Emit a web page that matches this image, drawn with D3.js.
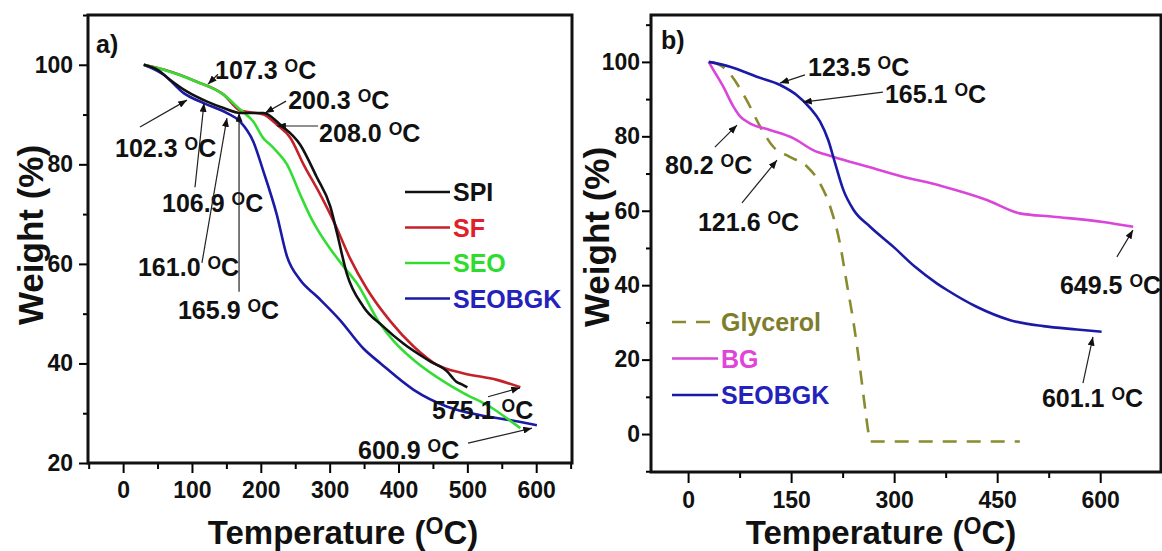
<!DOCTYPE html>
<html>
<head>
<meta charset="utf-8">
<script src="https://cdn.jsdelivr.net/npm/d3@7"></script>
<style>
    body { margin: 0; background: #fff; }
    text { font-family: "Liberation Sans", Arial, sans-serif; font-weight: bold; }
</style>
</head>
<body>
<div id="chart"></div>
<script>
// ---- panel a data: [temperature (C), weight (%)] ----
var spiData = [[30,100],[50,99],[68,97],[93,94.6],[122,92.6],[146,91.3],[170,90.3],[204,90.3],[228,88],[257,84],[281,77.5],[301,71.5],[311,66],[325,58],[349,51.4],[378,47.4],[407,44],[446,40.4],[472,38.2],[478,37.2],[484,36.3],[492,35.8],[500,35.2]];
var sfData = [[30,100],[60,99],[107,96.6],[146,94],[170,90.8],[204,90],[223,88],[243,85.3],[262,80],[286,74],[306,68.5],[330,61],[354,55],[388,48.5],[422,43.4],[456,39.7],[495,38],[543,36.7],[577,35.2]];
var seoData = [[30,100],[59,99],[107,96.6],[146,94],[170,91],[189,88.6],[205,85],[214,83.9],[223,82.6],[238,80],[257,74],[272,69.5],[282,67],[301,63],[320,59.5],[340,56],[373,48],[393,44.5],[422,40.7],[470,36],[495,34],[533,31.3],[567,28],[577,27]];
var seobgkA = [[30,100],[59,98],[88,94.3],[117,92.3],[151,90.3],[170,88.6],[189,84.6],[204,78.5],[223,70],[238,61.5],[257,56.8],[282,53.4],[315,48.7],[349,43],[374,40],[422,34.7],[471,31.3],[519,29.6],[567,28.5],[601,27.6]];

// ---- panel b data ----
var glycerolData = [[35,100],[56,97.8],[85,89.8],[105,82.6],[124,77.2],[148,74.5],[173,71.9],[192,67.4],[207,61],[221,51.3],[231,40.5],[241,29.8],[250,18.1],[258,6.5],[262,1],[265,-2],[483,-2]];
var bgData = [[30,100],[37,97.8],[51,93.4],[66,88],[76,85.3],[90,83.5],[119,81.7],[153,79.5],[182,76.3],[211,74.5],[262,71.8],[310,69.3],[370,66.6],[435,62.9],[483,59.3],[532,58.4],[604,57],[648,55.7]];
var seobgkB = [[30,100],[61,98.7],[100,96],[134,93.8],[158,91.1],[178,87.5],[192,84],[204,79],[214,72.8],[226,65.6],[241,60.2],[265,55.7],[299,50.3],[330,45],[362,40.5],[377,38.7],[420,34.2],[469,30.6],[517,29],[566,28.1],[602,27.5]];

// tick values
var xTicksA = [0, 100, 200, 300, 400, 500, 600];
var xMinorA = [-50, 50, 150, 250, 350, 450, 550, 650];
var yTicksA = [20, 40, 60, 80, 100];
var yMinorA = [30, 50, 70, 90, 110];
var xTicksB = [0, 150, 300, 450, 600];
var xMinorB = [75, 225, 375, 525];
var yTicksB = [0, 20, 40, 60, 80, 100];
var yMinorB = [-10, 10, 30, 50, 70, 90, 110];

// annotations: label, text pos [T,W], arrow from [T,W] to [T,W]
var notesA = [
    {label: "107.3", at: [133.6, 98.9], from: [137.8, 98.1], to: [123.3, 96.1]},
    {label: "200.3", at: [239.7, 92.9], from: [236.7, 92.7], to: [206.2, 90.3]},
    {label: "208.0", at: [284.7, 86.3], from: [283.2, 87.7], to: [223.7, 87.7]},
    {label: "102.3", at: [-11.8, 83.3], from: [24.5, 87.5], to: [92.8, 92.9]},
    {label: "106.9", at: [56.5, 72.2], from: [104.4, 75.4], to: [117.5, 92.3]},
    {label: "161.0", at: [21.6, 59.4], from: [114.5, 60.2], to: [150.8, 89.3]},
    {label: "165.9", at: [79.7, 50.7], from: [168.4, 54.4], to: [168.4, 90.3]},
    {label: "575.1", at: [448.7, 30.6], from: [530.0, 33.3], to: [576.5, 35.1]},
    {label: "600.9", at: [341.2, 22.6], from: [501.0, 24.0], to: [593.9, 27.0]}
];
var notesB = [
    {label: "123.5", at: [174.6, 98.6], from: [170.2, 96.5], to: [133.8, 94.3]},
    {label: "165.1", at: [286.5, 91.4], from: [283.6, 91.9], to: [167.3, 89.2]},
    {label: "80.2", at: [-33.6, 72.3], from: [39.0, 77.1], to: [71.2, 83.0]},
    {label: "121.6", at: [14.4, 57.0], from: [78.5, 62.1], to: [129.4, 73.6]},
    {label: "649.5", at: [541.4, 40.0], from: [624.3, 47.6], to: [647.7, 54.8]},
    {label: "601.1", at: [515.2, 9.7], from: [574.9, 13.7], to: [589.4, 26.1]}
];

var svg = d3.select("#chart").append("svg")
    .attr("width", 1162)
    .attr("height", 551);

// arrow head
svg.append("defs").append("marker")
    .attr("id", "arrow")
    .attr("viewBox", "0 0 10 8")
    .attr("refX", 10).attr("refY", 4)
    .attr("markerWidth", 9).attr("markerHeight", 7)
    .attr("markerUnits", "userSpaceOnUse")
    .attr("orient", "auto")
    .append("path").attr("d", "M0,0 L10,4 L0,8 z").attr("fill", "#111");

// adds "xxx OC" with raised O
function degText(sel, label) {
    sel.append("tspan").text(label + " ");
    sel.append("tspan").attr("font-size", "0.7em").attr("dy", "-0.42em").text("O");
    sel.append("tspan").attr("dy", "0.3em").text("C");
}

function drawPanel(cfg) {
    var x = d3.scaleLinear().domain(cfg.xDomain).range(cfg.xRange);
    var y = d3.scaleLinear().domain(cfg.yDomain).range(cfg.yRange);
    var g = svg.append("g");

    // minor ticks
    g.append("g").attr("transform", "translate(0," + cfg.yRange[0] + ")")
        .call(d3.axisBottom(x).tickValues(cfg.xMinor).tickSize(6).tickFormat(""))
        .call(function (a) { a.select(".domain").remove(); a.selectAll("line").attr("stroke-width", 2); });
    g.append("g").attr("transform", "translate(" + cfg.xRange[0] + ",0)")
        .call(d3.axisLeft(y).tickValues(cfg.yMinor).tickSize(5).tickFormat(""))
        .call(function (a) { a.select(".domain").remove(); a.selectAll("line").attr("stroke-width", 2); });

    // major ticks
    var xAxis = g.append("g").attr("transform", "translate(0," + cfg.yRange[0] + ")")
        .call(d3.axisBottom(x).tickValues(cfg.xTicks).tickSize(cfg.xTickLen).tickSizeOuter(0).tickPadding(cfg.xPad));
    var yAxis = g.append("g").attr("transform", "translate(" + cfg.xRange[0] + ",0)")
        .call(d3.axisLeft(y).tickValues(cfg.yTicks).tickSize(9).tickSizeOuter(0).tickPadding(cfg.yPad));
    [xAxis, yAxis].forEach(function (a) {
        a.select(".domain").remove();
        a.selectAll("line").attr("stroke-width", 2);
        a.selectAll("text").attr("font-size", 23).attr("fill", "#111")
            .style("font-family", "'Liberation Sans', Arial, sans-serif").style("font-weight", "bold");
    });

    // frame
    g.append("rect")
        .attr("x", cfg.xRange[0]).attr("y", cfg.yRange[1])
        .attr("width", cfg.xRange[1] - cfg.xRange[0])
        .attr("height", cfg.yRange[0] - cfg.yRange[1])
        .attr("fill", "none").attr("stroke", "#111").attr("stroke-width", 3);

    // curves
    var line = d3.line()
        .x(function (d) { return x(d[0]); })
        .y(function (d) { return y(d[1]); })
        .curve(d3.curveMonotoneX);
    cfg.series.forEach(function (s) {
        g.append("path")
            .datum(s.data)
            .attr("d", line)
            .attr("fill", "none")
            .attr("stroke", s.color)
            .attr("stroke-width", 2.6)
            .attr("stroke-dasharray", s.dash || null);
    });

    // annotations
    cfg.notes.forEach(function (n) {
        g.append("line")
            .attr("x1", x(n.from[0])).attr("y1", y(n.from[1]))
            .attr("x2", x(n.to[0])).attr("y2", y(n.to[1]))
            .attr("stroke", "#222").attr("stroke-width", 1.2)
            .attr("marker-end", "url(#arrow)");
        var t = g.append("text")
            .attr("x", x(n.at[0])).attr("y", y(n.at[1]) + 9)
            .attr("font-size", 25).attr("fill", "#111");
        degText(t, n.label);
    });

    // legend
    cfg.legend.forEach(function (l, i) {
        var ly = cfg.legendPos[1] + i * cfg.legendStep;
        g.append("line")
            .attr("x1", cfg.legendPos[0]).attr("x2", cfg.legendPos[0] + cfg.legendLen)
            .attr("y1", ly).attr("y2", ly)
            .attr("stroke", l.color).attr("stroke-width", 2.6)
            .attr("stroke-dasharray", l.dash || null);
        g.append("text")
            .attr("x", cfg.legendPos[0] + cfg.legendLen + 3).attr("y", ly + 9)
            .attr("font-size", 25).attr("fill", l.textColor)
            .text(l.name);
    });

    // panel letter
    g.append("text").attr("x", cfg.letterPos[0]).attr("y", cfg.letterPos[1])
        .attr("font-size", 25).attr("fill", "#111").text(cfg.letter);

    // axis titles
    g.append("text")
        .attr("transform", "translate(" + cfg.yTitle[0] + "," + cfg.yTitle[1] + ") rotate(-90)")
        .attr("text-anchor", "middle")
        .attr("font-size", 35).attr("fill", "#111")
        .text("Weight (%)");
    var xt = g.append("text")
        .attr("x", cfg.xTitle[0]).attr("y", cfg.xTitle[1])
        .attr("text-anchor", "middle")
        .attr("font-size", 33).attr("fill", "#111");
    xt.append("tspan").text("Temperature (");
    xt.append("tspan").attr("font-size", "0.7em").attr("dy", "-0.42em").text("O");
    xt.append("tspan").attr("dy", "0.3em").text("C)");
}

drawPanel({
    xDomain: [-51, 652], xRange: [88, 572],
    yDomain: [20, 110], yRange: [463, 15],
    xTicks: xTicksA, xMinor: xMinorA, yTicks: yTicksA, yMinor: yMinorA,
    xTickLen: 10, xPad: 9, yPad: 6,
    series: [
        {data: seobgkA, color: "#1a1aa6"},
        {data: sfData, color: "#c4222a"},
        {data: seoData, color: "#33dd33"},
        {data: spiData, color: "#111111"}
    ],
    notes: notesA,
    legend: [
        {name: "SPI", color: "#111111", textColor: "#111111"},
        {name: "SF", color: "#c4222a", textColor: "#e0202a"},
        {name: "SEO", color: "#33dd33", textColor: "#2edc2e"},
        {name: "SEOBGK", color: "#1a1aa6", textColor: "#2323bb"}
    ],
    legendPos: [405, 192], legendStep: 35.5, legendLen: 45,
    letter: "a)", letterPos: [96, 53],
    yTitle: [43, 235], xTitle: [343, 544]
});

drawPanel({
    xDomain: [-54, 688.5], xRange: [651, 1161],
    yDomain: [-10.2, 112.6], yRange: [472, 15],
    xTicks: xTicksB, xMinor: xMinorB, yTicks: yTicksB, yMinor: yMinorB,
    xTickLen: 11, xPad: 9, yPad: 2,
    series: [
        {data: glycerolData, color: "#8a8a2e", dash: "14,10"},
        {data: bgData, color: "#d946d9"},
        {data: seobgkB, color: "#1a1aa6"}
    ],
    notes: notesB,
    legend: [
        {name: "Glycerol", color: "#8a8a2e", textColor: "#7d7d2b", dash: "14,10"},
        {name: "BG", color: "#d946d9", textColor: "#e044d8"},
        {name: "SEOBGK", color: "#1a1aa6", textColor: "#2323bb"}
    ],
    legendPos: [672, 322], legendStep: 36.5, legendLen: 46,
    letter: "b)", letterPos: [661, 49],
    yTitle: [609, 237], xTitle: [881, 544]
});
</script>
</body>
</html>
